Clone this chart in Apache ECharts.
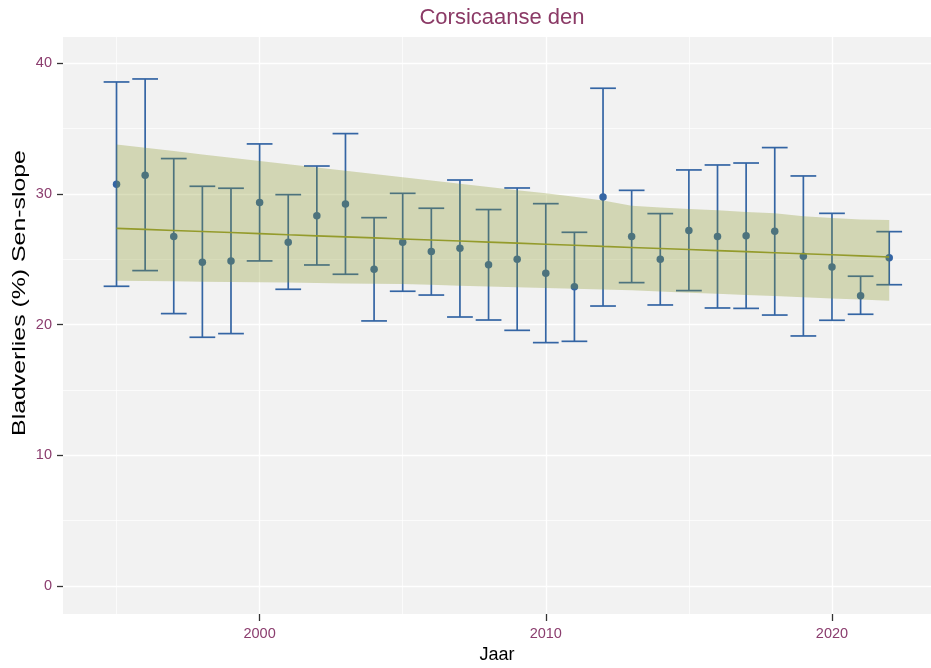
<!DOCTYPE html>
<html><head><meta charset="utf-8">
<script src="https://cdn.jsdelivr.net/npm/echarts@6/dist/echarts.min.js"></script>
<style>html,body{margin:0;padding:0;background:#fff}#c{width:931px;height:668px}</style>
</head><body><div id="c"></div>
<script>
const years = [1995,1996,1997,1998,1999,2000,2001,2002,2003,2004,2005,2006,2007,2008,2009,2010,2011,2012,2013,2014,2015,2016,2017,2018,2019,2020,2021,2022];
const values = [30.73,31.42,26.73,24.76,24.87,29.33,26.30,28.33,29.23,24.23,26.30,25.60,25.83,24.58,25.00,23.92,22.90,29.76,26.73,25.00,27.19,26.73,26.80,27.14,25.22,24.41,22.21,25.12];
const upper = [38.56,38.79,32.70,30.58,30.43,33.82,29.94,32.13,34.61,28.18,30.04,28.90,31.06,28.80,30.45,29.25,27.06,38.08,30.27,28.49,31.83,32.21,32.36,33.54,31.37,28.51,23.70,27.11];
const lower = [22.93,24.13,20.84,19.03,19.31,24.87,22.70,24.56,23.85,20.28,22.55,22.26,20.58,20.35,19.56,18.62,18.72,21.42,23.21,21.50,22.60,21.27,21.24,20.73,19.13,20.33,20.79,23.05];
const bandHigh = [33.77,33.52,33.27,33.02,32.77,32.52,32.27,32.02,31.77,31.52,31.27,31.02,30.77,30.52,30.28,30.04,29.78,29.50,29.10,28.95,28.85,28.75,28.62,28.52,28.28,28.15,28.03,28.00];
const bandLow = [23.36,23.34,23.31,23.28,23.26,23.23,23.21,23.18,23.15,23.12,23.10,23.04,22.98,22.92,22.86,22.80,22.74,22.68,22.62,22.53,22.44,22.36,22.27,22.18,22.09,22.00,21.92,21.83];
const trend = [27.36,27.28,27.20,27.12,27.04,26.96,26.87,26.79,26.71,26.63,26.55,26.47,26.39,26.31,26.23,26.15,26.07,25.98,25.90,25.82,25.74,25.66,25.58,25.50,25.42,25.34,25.26,25.17];
const xTicks = [2000,2010,2020];
const xMinor = [1995,2005,2015];
const yTicks = [0,10,20,30,40];
const yMinor = [5,15,25,35];
const titleText = 'Corsicaanse den';
const xName = 'Jaar';
const yName = 'Bladverlies (%) Sen-slope';

const BLUE = '#3465a4';
const TICKCOL = '#8b3d6e';
const FONT = '"Liberation Sans", Arial, sans-serif';

const chart = echarts.init(document.getElementById('c'), null, {renderer: 'canvas'});

const gridMarks = [];
yTicks.forEach(v => gridMarks.push({yAxis: v, lineStyle: {width: 1.4}}));
yMinor.forEach(v => gridMarks.push({yAxis: v, lineStyle: {width: 0.7}}));
xTicks.forEach(v => gridMarks.push({xAxis: v, lineStyle: {width: 1.4}}));
xMinor.forEach(v => gridMarks.push({xAxis: v, lineStyle: {width: 0.7}}));

chart.setOption({
  animation: false,
  backgroundColor: '#ffffff',
  textStyle: {fontFamily: FONT},
  graphic: [{
    type: 'text', x: 502, y: 18,
    style: {text: titleText, textAlign: 'center', textVerticalAlign: 'middle', fontSize: 22, fill: '#8b3a66', fontFamily: FONT}
  }, {
    type: 'text', x: 20, y: 293, rotation: Math.PI / 2, scaleX: 1.38,
    style: {text: yName, textAlign: 'center', textVerticalAlign: 'middle', fontSize: 18, fill: '#000', fontFamily: FONT}
  }],
  grid: {left: 63, right: 0, top: 37, bottom: 54, show: true, backgroundColor: '#f2f2f2', borderWidth: 0, outerBoundsMode: 'none', containLabel: false},
  xAxis: {
    type: 'value', min: 1993.13, max: 2023.46,
    splitLine: {show: false},
    axisLine: {show: false, onZero: false},
    axisTick: {show: true, customValues: xTicks, length: 7, lineStyle: {color: '#333', width: 1.3}},
    axisLabel: {customValues: xTicks, color: TICKCOL, fontSize: 14.5, margin: 12, fontFamily: FONT, formatter: v => String(v)},
    name: xName, nameLocation: 'middle', nameGap: 32,
    nameTextStyle: {fontSize: 18, color: '#000', fontFamily: FONT}
  },
  yAxis: {
    type: 'value', min: -2.14, max: 42.0,
    splitLine: {show: false},
    axisLine: {show: false, onZero: false},
    axisTick: {show: true, customValues: yTicks, length: 6, lineStyle: {color: '#333', width: 1.3}},
    axisLabel: {customValues: yTicks, color: TICKCOL, fontSize: 14.5, margin: 11, fontFamily: FONT, formatter: v => String(v)}
  },
  series: [
    {
      type: 'line', data: [], z: 1, silent: true,
      markLine: {
        silent: true, symbol: 'none', z: 1, animation: false,
        label: {show: false},
        lineStyle: {color: '#ffffff', type: 'solid'},
        emphasis: {disabled: true},
        data: gridMarks
      }
    },
    {
      type: 'custom', z: 3, silent: true,
      data: years.map((y, i) => [y, lower[i], upper[i]]),
      encode: {x: 0, y: [1, 2]},
      renderItem: function (params, api) {
        const x = api.value(0);
        const lo = api.coord([x, api.value(1)]);
        const hi = api.coord([x, api.value(2)]);
        const hw = api.size([0.45, 0])[0];
        const st = {stroke: BLUE, lineWidth: 1.7, fill: null};
        return {type: 'group', children: [
          {type: 'line', shape: {x1: lo[0], y1: lo[1], x2: hi[0], y2: hi[1]}, style: st},
          {type: 'line', shape: {x1: lo[0] - hw, y1: lo[1], x2: lo[0] + hw, y2: lo[1]}, style: st},
          {type: 'line', shape: {x1: hi[0] - hw, y1: hi[1], x2: hi[0] + hw, y2: hi[1]}, style: st}
        ]};
      }
    },
    {
      type: 'scatter', z: 3, silent: true,
      data: years.map((y, i) => [y, values[i]]),
      symbol: 'circle', symbolSize: 7.5,
      itemStyle: {color: BLUE, opacity: 1}
    },
    {
      type: 'custom', z: 4, silent: true,
      data: years.map((y, i) => [y, bandLow[i], bandHigh[i]]),
      encode: {x: 0, y: [1, 2]},
      renderItem: function (params, api) {
        if (params.dataIndex !== 0) return null;
        const pts = [];
        for (let i = 0; i < years.length; i++) pts.push(api.coord([years[i], bandHigh[i]]));
        for (let i = years.length - 1; i >= 0; i--) pts.push(api.coord([years[i], bandLow[i]]));
        return {type: 'polygon', shape: {points: pts}, style: {fill: 'rgba(135,150,36,0.3)', stroke: null}};
      }
    },
    {
      type: 'line', z: 5, silent: true,
      data: years.map((y, i) => [y, trend[i]]),
      showSymbol: false,
      lineStyle: {color: '#949b2c', width: 1.6},
      itemStyle: {color: '#949b2c'}
    }
  ]
});
</script>
</body></html>
